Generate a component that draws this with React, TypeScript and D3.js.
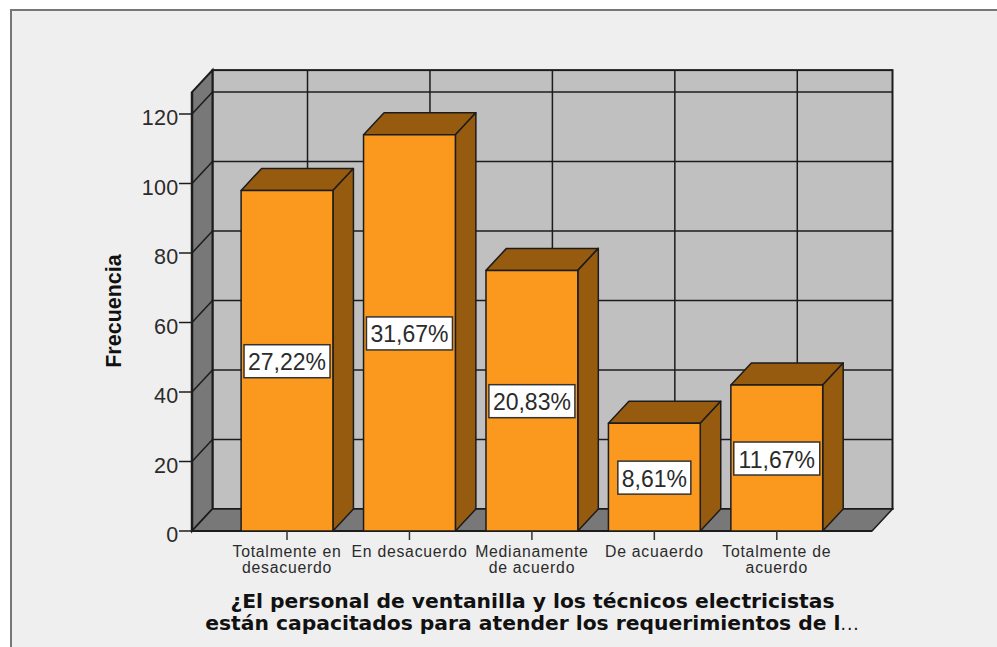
import React from "react";
import * as d3 from "d3";

const categories: string[][] = [
  ["Totalmente en", "desacuerdo"],
  ["En desacuerdo"],
  ["Medianamente", "de acuerdo"],
  ["De acuaerdo"],
  ["Totalmente de", "acuerdo"],
];
const counts = [98, 114, 75, 31, 42];
const percents = ["27,22%", "31,67%", "20,83%", "8,61%", "11,67%"];
const yTicks = [0, 20, 40, 60, 80, 100, 120];
const titleLine1 = "¿El personal de ventanilla y los técnicos electricistas";
const titleLine2 = "están capacitados para atender los requerimientos de l";
const yLabel = "Frecuencia";

const W = 997, H = 647;
const DX = 20.5, DY = 22;
const FRONT_L = 192, FRONT_R = 872, Y0 = 531;
const y = d3.scaleLinear().domain([0, 120]).range([Y0, 114]);
const x = d3.scaleBand<number>().domain(d3.range(5)).range([225.8, 838]).paddingInner(0.25).paddingOuter(0.125);
const yMax = 126.3;
const LINE = "#1c1c1c";
const TEXT = "#2b2b2b";
const ARIAL = "'Liberation Sans', Arial, sans-serif";
const DEJAVU = "'DejaVu Sans', sans-serif";

export default function App() {
  const top = y(yMax);
  return (
    <svg width={W} height={H} style={{ position: "absolute", left: 0, top: 0 }}>
      <rect width={W} height={H} fill="#ffffff" />
      <rect x={11} y={10} width={W} height={H} fill="#efefef" stroke="#777" strokeWidth={2} />

      {/* back wall */}
      <rect x={FRONT_L + DX} y={top - DY} width={FRONT_R - FRONT_L} height={Y0 - top} fill="#c0c0c0" stroke={LINE} strokeWidth={2} />
      {/* left wall */}
      <polygon points={`${FRONT_L},${top} ${FRONT_L + DX},${top - DY} ${FRONT_L + DX},${Y0 - DY} ${FRONT_L},${Y0}`} fill="#787878" stroke={LINE} strokeWidth={2} />
      {/* floor */}
      <polygon points={`${FRONT_L},${Y0} ${FRONT_L + DX},${Y0 - DY} ${FRONT_R + DX},${Y0 - DY} ${FRONT_R},${Y0}`} fill="#787878" stroke={LINE} strokeWidth={1.5} />
      {/* gridlines */}
      {yTicks.slice(1).map((t) => (
        <g key={t} stroke={LINE} strokeWidth={1.5}>
          <line x1={FRONT_L + DX} x2={FRONT_R + DX} y1={y(t) - DY} y2={y(t) - DY} />
          <line x1={FRONT_L} x2={FRONT_L + DX} y1={y(t)} y2={y(t) - DY} />
        </g>
      ))}
      {counts.map((_, i) => {
        const cx = x(i)! + x.bandwidth() / 2 + DX;
        return <line key={i} x1={cx} x2={cx} y1={top - DY} y2={Y0 - DY} stroke={LINE} strokeWidth={1.5} />;
      })}
      {/* y axis */}
      <line x1={FRONT_L} x2={FRONT_L} y1={top} y2={Y0} stroke={LINE} strokeWidth={2.5} />
      <line x1={FRONT_L} x2={FRONT_R} y1={Y0} y2={Y0} stroke={LINE} strokeWidth={2} />
      {yTicks.map((t) => (
        <g key={t}>
          <line x1={FRONT_L - 13} x2={FRONT_L} y1={y(t)} y2={y(t)} stroke={LINE} strokeWidth={1.5} />
          <text x={FRONT_L - 13.5} y={y(t) + 11} textAnchor="end" fontFamily={ARIAL} fontSize={21.5} letterSpacing={0.3} fill={TEXT}>{t}</text>
        </g>
      ))}
      {/* bars */}
      {counts.map((v, i) => {
        const bx = x(i)!, bw = x.bandwidth(), by = y(v);
        return (
          <g key={i} stroke={LINE} strokeWidth={1.5} strokeLinejoin="round">
            <polygon points={`${bx},${by} ${bx + DX},${by - DY} ${bx + bw + DX},${by - DY} ${bx + bw},${by}`} fill="#975b10" />
            <polygon points={`${bx + bw},${by} ${bx + bw + DX},${by - DY} ${bx + bw + DX},${Y0 - DY} ${bx + bw},${Y0}`} fill="#975b10" />
            <rect x={bx} y={by} width={bw} height={Y0 - by} fill="#fb991e" />
          </g>
        );
      })}
      {/* percent labels */}
      {counts.map((v, i) => {
        const cx = x(i)! + x.bandwidth() / 2;
        const cy = (y(v) + Y0) / 2 + 0.5;
        const w = percents[i].length > 5 ? 86 : 73;
        return (
          <g key={i}>
            <rect x={cx - w / 2} y={cy - 16.5} width={w} height={33} fill="#ffffff" stroke="#333" strokeWidth={1.5} />
            <text x={cx} y={cy + 9} textAnchor="middle" fontFamily={ARIAL} fontSize={23} fill={TEXT}>{percents[i]}</text>
          </g>
        );
      })}
      {/* category ticks + labels */}
      {categories.map((lines, i) => {
        const cx = x(i)! + x.bandwidth() / 2;
        return (
          <g key={i}>
            <line x1={cx} x2={cx} y1={Y0} y2={Y0 + 9} stroke="#333" strokeWidth={1.5} />
            {lines.map((l, j) => (
              <text key={j} x={cx} y={Y0 + 26 + j * 16} textAnchor="middle" fontFamily={ARIAL} fontSize={15.8} letterSpacing={0.75} fill={TEXT}>{l}</text>
            ))}
          </g>
        );
      })}
      {/* y title */}
      <text transform="translate(120.5,311) rotate(-90)" textAnchor="middle" fontFamily={ARIAL} fontWeight="bold" fontSize={21.5} fill="#111">{yLabel}</text>
      {/* x title */}
      <text x={532.5} y={608} textAnchor="middle" fontFamily={DEJAVU} fontWeight="bold" fontSize={20.3} fill="#111">{titleLine1}</text>
      <text x={532.5} y={629.5} textAnchor="middle" fontFamily={DEJAVU} fontWeight="bold" fontSize={20.3} fill="#111">
        {titleLine2}
        <tspan fontWeight="normal" fontSize={17} letterSpacing={1}>...</tspan>
      </text>
    </svg>
  );
}
